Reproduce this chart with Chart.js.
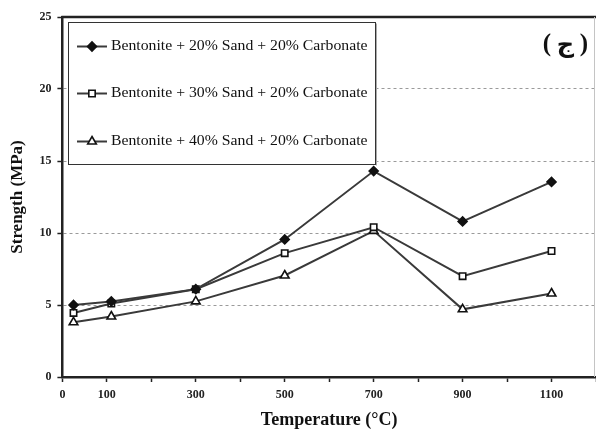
<!DOCTYPE html>
<html>
<head>
<meta charset="utf-8">
<script src="https://cdn.jsdelivr.net/npm/chart.js@4.4.1/dist/chart.umd.min.js"></script>
<style>
  html, body { margin: 0; padding: 0; background: #fff; }
  #wrap { width: 596px; height: 431px; }
</style>
</head>
<body>
<div id="wrap"><canvas id="c"></canvas></div>
<script>
// Firing temperatures (°C)
const temperatures = [25, 110, 300, 500, 700, 900, 1100];
// Strength (MPa) for each mix
const sand20 = [5.0, 5.25, 6.1, 9.55, 14.3, 10.8, 13.55];
const sand30 = [4.45, 5.1, 6.1, 8.6, 10.4, 7.0, 8.75];
const sand40 = [3.8, 4.2, 5.25, 7.05, 10.15, 4.7, 5.8];
const seriesNames = [
  'Bentonite + 20% Sand + 20% Carbonate',
  'Bentonite + 30% Sand + 20% Carbonate',
  'Bentonite + 40% Sand + 20% Carbonate'
];
const xLabelValues = [0, 100, 300, 500, 700, 900, 1100];
const panelLetter = 'ج';

const SERIF = "'Liberation Serif', 'Times New Roman', serif";
const LINE = '#3a3a3a';

function pts(vals) {
  return temperatures.map((t, i) => ({ x: t, y: vals[i] }));
}

// Frame (top + right), boxed legend and panel letter
const decorations = {
  id: 'decorations',
  afterDraw(chart) {
    const { ctx, chartArea: a } = chart;
    ctx.save();
    // top frame
    ctx.strokeStyle = '#222';
    ctx.lineWidth = 2.5;
    ctx.beginPath();
    ctx.moveTo(a.left - 1, a.top);
    ctx.lineTo(a.right, a.top);
    ctx.stroke();
    // right frame
    ctx.strokeStyle = '#c4c4c4';
    ctx.lineWidth = 1;
    ctx.beginPath();
    ctx.moveTo(a.right - 1.5, a.top);
    ctx.lineTo(a.right - 1.5, a.bottom);
    ctx.stroke();

    // legend box
    const bx = 68.5, by = 22.5, bw = 307, bh = 142;
    ctx.fillStyle = '#fff';
    ctx.fillRect(bx, by, bw, bh);
    ctx.strokeStyle = '#333';
    ctx.lineWidth = 1;
    ctx.strokeRect(bx, by, bw, bh);
    ctx.strokeStyle = '#aaa';
    ctx.beginPath();
    ctx.moveTo(bx + bw + 1, by + 1);
    ctx.lineTo(bx + bw + 1, by + bh + 1);
    ctx.stroke();

    const rows = [46.5, 93.5, 141.5];
    chart.data.datasets.forEach((ds, i) => {
      const y = rows[i];
      ctx.strokeStyle = ds.borderColor;
      ctx.lineWidth = ds.borderWidth;
      ctx.beginPath();
      ctx.moveTo(77, y);
      ctx.lineTo(107, y);
      ctx.stroke();

      ctx.save();
      ctx.fillStyle = ds.pointBackgroundColor;
      ctx.strokeStyle = ds.pointBorderColor;
      ctx.lineWidth = ds.pointBorderWidth;
      Chart.helpers.drawPoint(ctx, {
        pointStyle: ds.pointStyle,
        radius: ds.pointRadius,
        rotation: 0,
        borderWidth: ds.pointBorderWidth
      }, 92, y);
      ctx.restore();

      ctx.save();
      ctx.fillStyle = '#111';
      ctx.font = '15px ' + SERIF;
      ctx.textBaseline = 'middle';
      ctx.textAlign = 'left';
      ctx.translate(111, y);
      ctx.scale(1.05, 1);
      ctx.fillText(ds.label, 0, 0);
      ctx.restore();
    });

    // panel letter in parentheses
    ctx.fillStyle = '#111';
    ctx.textBaseline = 'middle';
    ctx.textAlign = 'center';
    ctx.font = "bold 25px " + SERIF;
    ctx.fillText('(', 547, 45);
    ctx.fillText(')', 584, 45);
    ctx.font = "bold 24px 'DejaVu Sans', 'Noto Sans', sans-serif";
    ctx.fillText(panelLetter, 565.5, 46);
    ctx.restore();
  }
};

function dataset(label, vals, style, radius, fill) {
  return {
    label,
    data: pts(vals),
    borderColor: LINE,
    backgroundColor: fill,
    borderWidth: 2,
    pointStyle: style,
    pointRadius: radius,
    pointHoverRadius: radius,
    pointBorderWidth: 1.6,
    pointBorderColor: '#111',
    pointBackgroundColor: fill,
    tension: 0
  };
}

const datasets = [
  dataset(seriesNames[0], sand20, 'rectRot', 4.5, '#111'),
  dataset(seriesNames[1], sand30, 'rect', 4.5, '#fff'),
  dataset(seriesNames[2], sand40, 'triangle', 5, '#fff')
];

new Chart(document.getElementById('c'), {
  type: 'line',
  data: { datasets },
  options: {
    responsive: true,
    maintainAspectRatio: false,
    animation: false,
    layout: { autoPadding: false, padding: { top: 17, right: 0, left: 7, bottom: 0 } },
    plugins: {
      legend: { display: false },
      tooltip: { enabled: false }
    },
    scales: {
      x: {
        type: 'linear',
        min: 0,
        max: 1200,
        afterFit: (scale) => { scale.paddingRight = 0; },
        border: { color: '#222', width: 2.5 },
        grid: {
          drawOnChartArea: false,
          drawTicks: true,
          tickLength: 5,
          tickColor: '#222',
          tickWidth: 1.5
        },
        ticks: {
          stepSize: 100,
          autoSkip: false,
          maxRotation: 0,
          padding: 6,
          color: '#222',
          font: { family: SERIF, size: 12, weight: 'bold' },
          callback: (v) => xLabelValues.includes(v) ? String(v) : ''
        },
        title: {
          display: true,
          text: 'Temperature (°C)',
          color: '#111',
          font: { family: SERIF, size: 18, weight: 'bold' },
          padding: { top: 1, bottom: 0 }
        }
      },
      y: {
        min: 0,
        max: 25,
        border: { color: '#222', width: 2.5, dash: [3, 3] },
        grid: {
          color: (ctx) => (ctx.tick && (ctx.tick.value === 0 || ctx.tick.value === 25)) ? 'rgba(0,0,0,0)' : '#9a9a9a',
          lineWidth: 1,
          tickLength: 5,
          tickColor: '#222',
          tickWidth: 1.5
        },
        ticks: {
          stepSize: 5,
          padding: 6,
          color: '#222',
          font: { family: SERIF, size: 12, weight: 'bold' }
        },
        title: {
          display: true,
          text: 'Strength (MPa)',
          color: '#111',
          font: { family: SERIF, size: 17, weight: 'bold' },
          padding: { top: 0, bottom: 6 }
        }
      }
    }
  },
  plugins: [decorations]
});
</script>
</body>
</html>
